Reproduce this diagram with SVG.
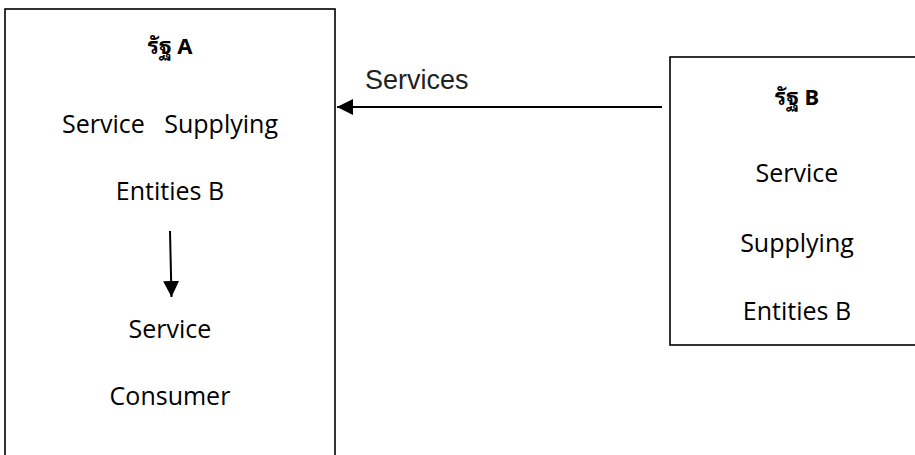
<svg xmlns="http://www.w3.org/2000/svg" width="915" height="455" viewBox="0 0 915 455">
<style>
.box{fill:#fff;stroke:#000;stroke-width:1.6}
.t{font-family:"Open Sans","Liberation Sans",sans-serif;font-size:25px;fill:#000;text-anchor:middle}
.h{font-family:"Noto Sans Thai Looped","Noto Sans Thai","Noto Sans","Liberation Sans",sans-serif;font-size:22px;font-weight:bold;fill:#000;text-anchor:middle}
.lbl{font-family:"Liberation Sans",sans-serif;font-size:27px;fill:#222}
.c{stroke:#000;stroke-width:2;fill:none}
</style>
<defs>
<marker id="ah2" viewBox="0 0 10 10" refX="10" refY="5" markerUnits="userSpaceOnUse" markerWidth="16" markerHeight="16" orient="auto">
<path d="M0,0 L10,5 L0,10 z" fill="#000"/>
</marker>
</defs>
<rect width="915" height="455" fill="#fff"/>
<g id="stateA">
<rect class="box" x="5" y="9" width="330" height="460"/>
<text class="h" x="170" y="54">รัฐ A</text>
<text class="t" x="170" y="133" xml:space="preserve">Service   Supplying</text>
<text class="t" x="170" y="200">Entities B</text>
<text class="t" x="170" y="338">Service</text>
<text class="t" x="170" y="405">Consumer</text>
</g>
<g id="stateB">
<rect class="box" x="670" y="57" width="260" height="288"/>
<text class="h" x="797" y="105">รัฐ B</text>
<text class="t" x="797" y="182">Service</text>
<text class="t" x="797" y="252">Supplying</text>
<text class="t" x="797" y="320">Entities B</text>
</g>
<g id="connectors">
<line class="c" x1="662" y1="107" x2="337" y2="107" marker-end="url(#ah2)"/>
<text class="lbl" x="365" y="89">Services</text>
<line class="c" x1="170" y1="231" x2="171.5" y2="297" marker-end="url(#ah2)"/>
</g>
</svg>
